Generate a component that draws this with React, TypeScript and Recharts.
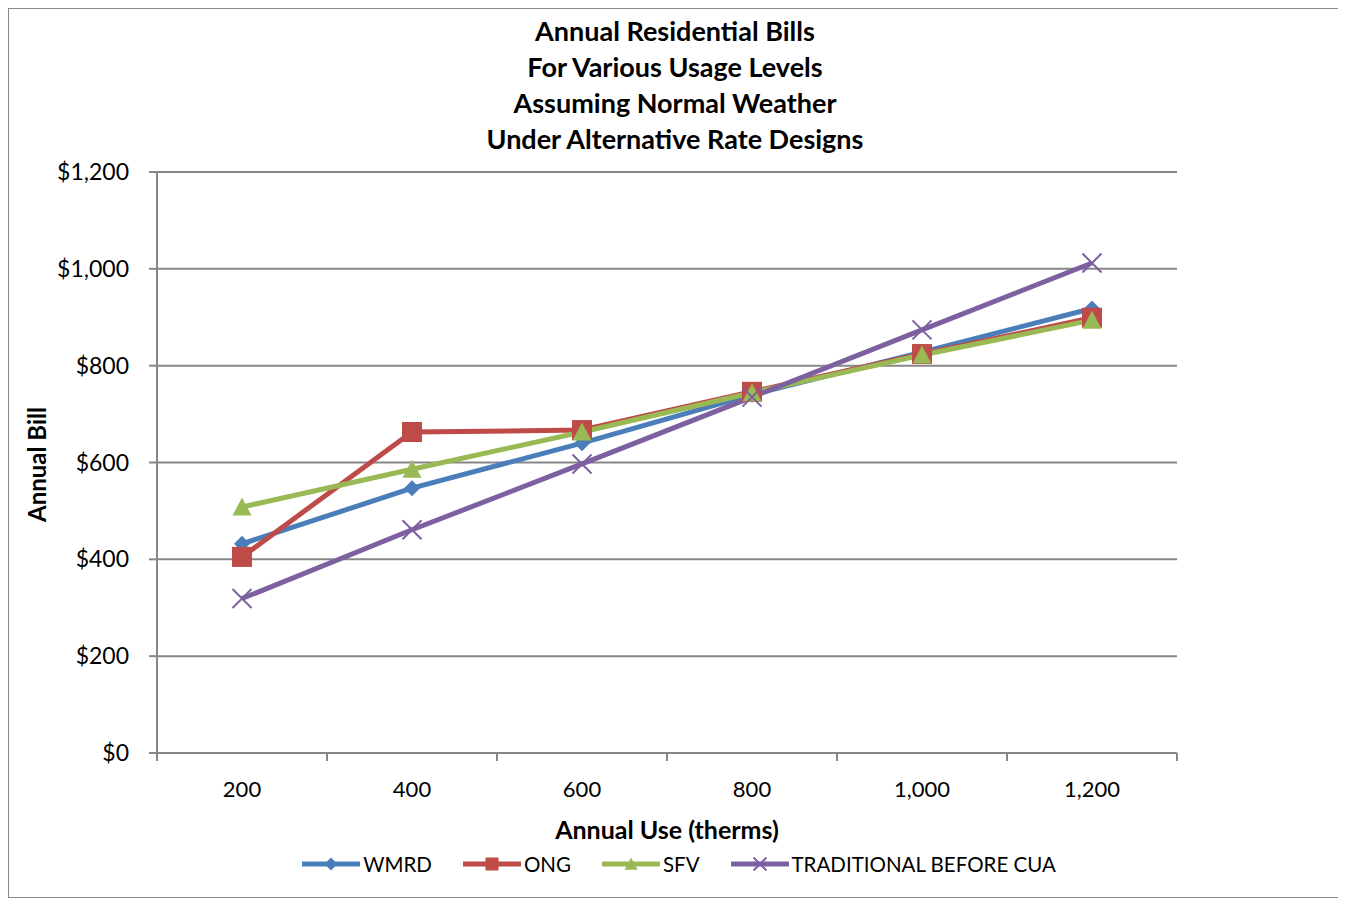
import React from "react";
import { LineChart, Line, XAxis, YAxis, CartesianGrid, Legend } from "recharts";

// annual usage (therms) and the bill under each rate design
const usage = [200, 400, 600, 800, 1000, 1200];
const wmrd = [432, 547, 640, 740, 828, 918];
const ong = [405, 663, 667, 746, 824, 899];
const sfv = [508, 586, 663, 744, 822, 894];
const traditional = [319, 461, 597, 735, 874, 1012];

const yTicks = [0, 200, 400, 600, 800, 1000, 1200];
// labels sit on the even steps, tick marks fall between them
const xTicks = [100, 200, 300, 400, 500, 600, 700, 800, 900, 1000, 1100, 1200, 1300];

const titleLines = [
  "Annual Residential Bills",
  "For Various Usage Levels",
  "Assuming Normal Weather",
  "Under Alternative Rate Designs",
];

const FONT = "Lato, 'Open Sans', sans-serif";
const GRID = "#878787";

const rows = usage.map((u, i) => ({
  use: u,
  WMRD: wmrd[i],
  ONG: ong[i],
  SFV: sfv[i],
  TRAD: traditional[i],
}));

type MarkerKind = "diamond" | "square" | "triangle" | "cross";

const series: { key: string; name: string; color: string; marker: MarkerKind }[] = [
  { key: "WMRD", name: "WMRD", color: "#4A7EBB", marker: "diamond" },
  { key: "ONG", name: "ONG", color: "#BE4B48", marker: "square" },
  { key: "SFV", name: "SFV", color: "#98B954", marker: "triangle" },
  { key: "TRAD", name: "TRADITIONAL BEFORE CUA", color: "#7D60A0", marker: "cross" },
];

function marker(kind: MarkerKind, cx: number, cy: number, s: number, color: string, key?: string) {
  const h = s / 2;
  switch (kind) {
    case "diamond":
      return (
        <path key={key} d={`M${cx},${cy - h}L${cx + h},${cy}L${cx},${cy + h}L${cx - h},${cy}Z`} fill={color} />
      );
    case "square":
      return <rect key={key} x={cx - h} y={cy - h} width={s} height={s} fill={color} />;
    case "triangle":
      return (
        <path key={key} d={`M${cx},${cy - h}L${cx + h},${cy + h * 0.9}L${cx - h},${cy + h * 0.9}Z`} fill={color} />
      );
    default:
      return (
        <path
          key={key}
          d={`M${cx - h},${cy - h}L${cx + h},${cy + h}M${cx + h},${cy - h}L${cx - h},${cy + h}`}
          stroke={color}
          strokeWidth={2}
          fill="none"
        />
      );
  }
}

const dotSize: Record<MarkerKind, number> = { diamond: 16, square: 20, triangle: 19, cross: 19 };

const XTick = (props: any) => {
  const { x, y, payload } = props;
  const v = payload.value as number;
  if (v % 200 === 0) {
    return (
      <text x={x} y={y + 44} textAnchor="middle" fontFamily={FONT} fontSize={22} fill="#000">
        {v.toLocaleString("en-US")}
      </text>
    );
  }
  return <line x1={x} x2={x} y1={y} y2={y + 8} stroke={GRID} strokeWidth={2} />;
};

const LegendBox = () => (
  <div
    style={{
      display: "flex",
      justifyContent: "center",
      alignItems: "center",
      gap: 31,
      height: 30,
      paddingLeft: 8,
      fontFamily: FONT,
      fontSize: 20.5,
      color: "#000",
    }}
  >
    {series.map((s) => (
      <div key={s.key} style={{ display: "flex", alignItems: "center" }}>
        <svg width={58} height={20} style={{ marginRight: 3 }}>
          <line x1={0} x2={58} y1={10} y2={10} stroke={s.color} strokeWidth={5} strokeLinecap="round" />
          {marker(s.marker, 29, 10, 13, s.color)}
        </svg>
        <span>{s.name}</span>
      </div>
    ))}
  </div>
);

export default function App() {
  return (
    <div
      style={{
        position: "relative",
        width: 1332,
        height: 888,
        border: "1px solid #8a8a8a",
        background: "#fff",
      }}
    >
      <div
        style={{
          position: "absolute",
          top: 4,
          left: 0,
          width: 1332,
          textAlign: "center",
          fontFamily: FONT,
          fontWeight: 700,
          fontSize: 27,
          lineHeight: "36px",
          color: "#000",
        }}
      >
        {titleLines.map((t) => (
          <div key={t}>{t}</div>
        ))}
      </div>
      <LineChart
        width={1332}
        height={888}
        data={rows}
        margin={{ top: 163, right: 164, left: 0, bottom: 18 }}
      >
        <CartesianGrid vertical={false} stroke={GRID} strokeWidth={2} />
        <XAxis
          dataKey="use"
          type="number"
          domain={[100, 1300]}
          ticks={xTicks}
          interval={0}
          height={96}
          tickSize={0}
          tickMargin={0}
          tickLine={false}
          tick={<XTick />}
          axisLine={{ stroke: GRID, strokeWidth: 2 }}
          label={{
            value: "Annual Use (therms)",
            position: "insideBottom",
            offset: 10,
            fontFamily: FONT,
            fontSize: 25,
            fontWeight: 700,
            fill: "#000",
          }}
        />
        <YAxis
          domain={[0, 1200]}
          ticks={yTicks}
          width={148}
          tickSize={8}
          tickMargin={20}
          tickFormatter={(v: number) => `$${v.toLocaleString("en-US")}`}
          tick={{ fontFamily: FONT, fontSize: 23, fill: "#000" }}
          tickLine={{ stroke: GRID, strokeWidth: 2 }}
          axisLine={{ stroke: GRID, strokeWidth: 2 }}
          label={{
            content: (p: any) => {
              const vb = p.viewBox;
              const cx = vb.x + 27;
              const cy = vb.y + vb.height / 2 + 2;
              return (
                <text
                  x={cx}
                  y={cy}
                  transform={`rotate(-90 ${cx} ${cy})`}
                  textAnchor="middle"
                  dominantBaseline="central"
                  fontFamily={FONT}
                  fontSize={24}
                  fontWeight={700}
                  fill="#000"
                >
                  Annual Bill
                </text>
              );
            },
          }}
        />
        <Legend
          verticalAlign="bottom"
          content={<LegendBox />}
          wrapperStyle={{ left: 0, width: 1332 }}
        />
        {series.map((s) => (
          <Line
            key={s.key}
            dataKey={s.key}
            name={s.name}
            type="linear"
            stroke={s.color}
            strokeWidth={5}
            isAnimationActive={false}
            dot={(p: any) => marker(s.marker, p.cx, p.cy, dotSize[s.marker], s.color, `${s.key}-${p.index}`)}
            activeDot={false}
          />
        ))}
      </LineChart>
    </div>
  );
}
